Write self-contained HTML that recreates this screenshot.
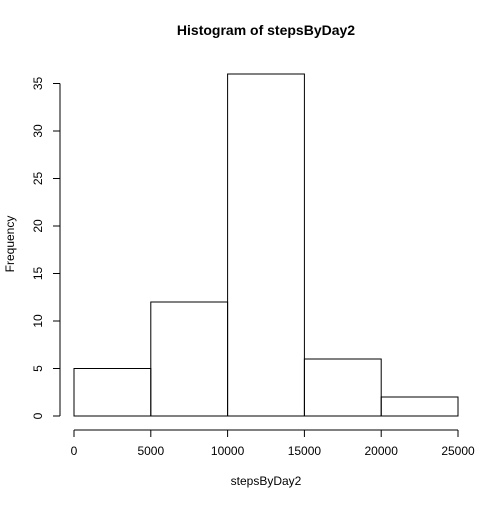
<!DOCTYPE html>
<html><head><meta charset="utf-8"><style>
body{margin:0;background:#fff}
svg text{font-family:"Liberation Sans",sans-serif;fill:#000}
</style></head><body>
<svg width="504" height="504" xmlns="http://www.w3.org/2000/svg">
<text x="266" y="35" text-anchor="middle" font-size="14" font-weight="bold">Histogram of stepsByDay2</text>
<text x="266" y="485" text-anchor="middle" font-size="12">stepsByDay2</text>
<text transform="translate(14,244) rotate(-90)" text-anchor="middle" font-size="12">Frequency</text>
<g id="bars"></g><g id="xaxis"></g><g id="yaxis"></g>
</svg>
<script>
const binEdges=[0,5000,10000,15000,20000,25000];
const counts=[5,12,36,6,2];
const xTicks=[0,5000,10000,15000,20000,25000];
const yTicks=[0,5,10,15,20,25,30,35];
const NS="http://www.w3.org/2000/svg";
const X=v=>74+v*(384/25000);
const Y=v=>416-v*9.5;
function mk(t,a,p){const e=document.createElementNS(NS,t);for(const k in a)e.setAttribute(k,a[k]);p.appendChild(e);return e;}
const bars=document.getElementById('bars');
counts.forEach((c,i)=>{
 const r=mk('rect',{x:X(binEdges[i]),y:Y(c),width:X(binEdges[i+1])-X(binEdges[i]),height:Y(0)-Y(c),fill:'none',stroke:'#000','stroke-width':1},bars);
 
 
});
const xa=document.getElementById('xaxis');
mk('line',{x1:X(xTicks[0]),x2:X(xTicks[xTicks.length-1]),y1:430,y2:430,stroke:'#000'},xa);
xTicks.forEach(t=>{
 mk('line',{x1:X(t),x2:X(t),y1:430,y2:437,stroke:'#000'},xa);
 const tx=mk('text',{x:X(t),y:455,'text-anchor':'middle','font-size':12},xa);tx.textContent=t;
 
 
});
const ya=document.getElementById('yaxis');
mk('line',{x1:60,x2:60,y1:Y(yTicks[0]),y2:Y(yTicks[yTicks.length-1]),stroke:'#000'},ya);
yTicks.forEach(t=>{
 mk('line',{x1:53,x2:60,y1:Y(t),y2:Y(t),stroke:'#000'},ya);
 const tx=mk('text',{transform:`translate(42,${Y(t)}) rotate(-90)`,'text-anchor':'middle','font-size':12},ya);tx.textContent=t;
 
 
});
</script>
</body></html>
